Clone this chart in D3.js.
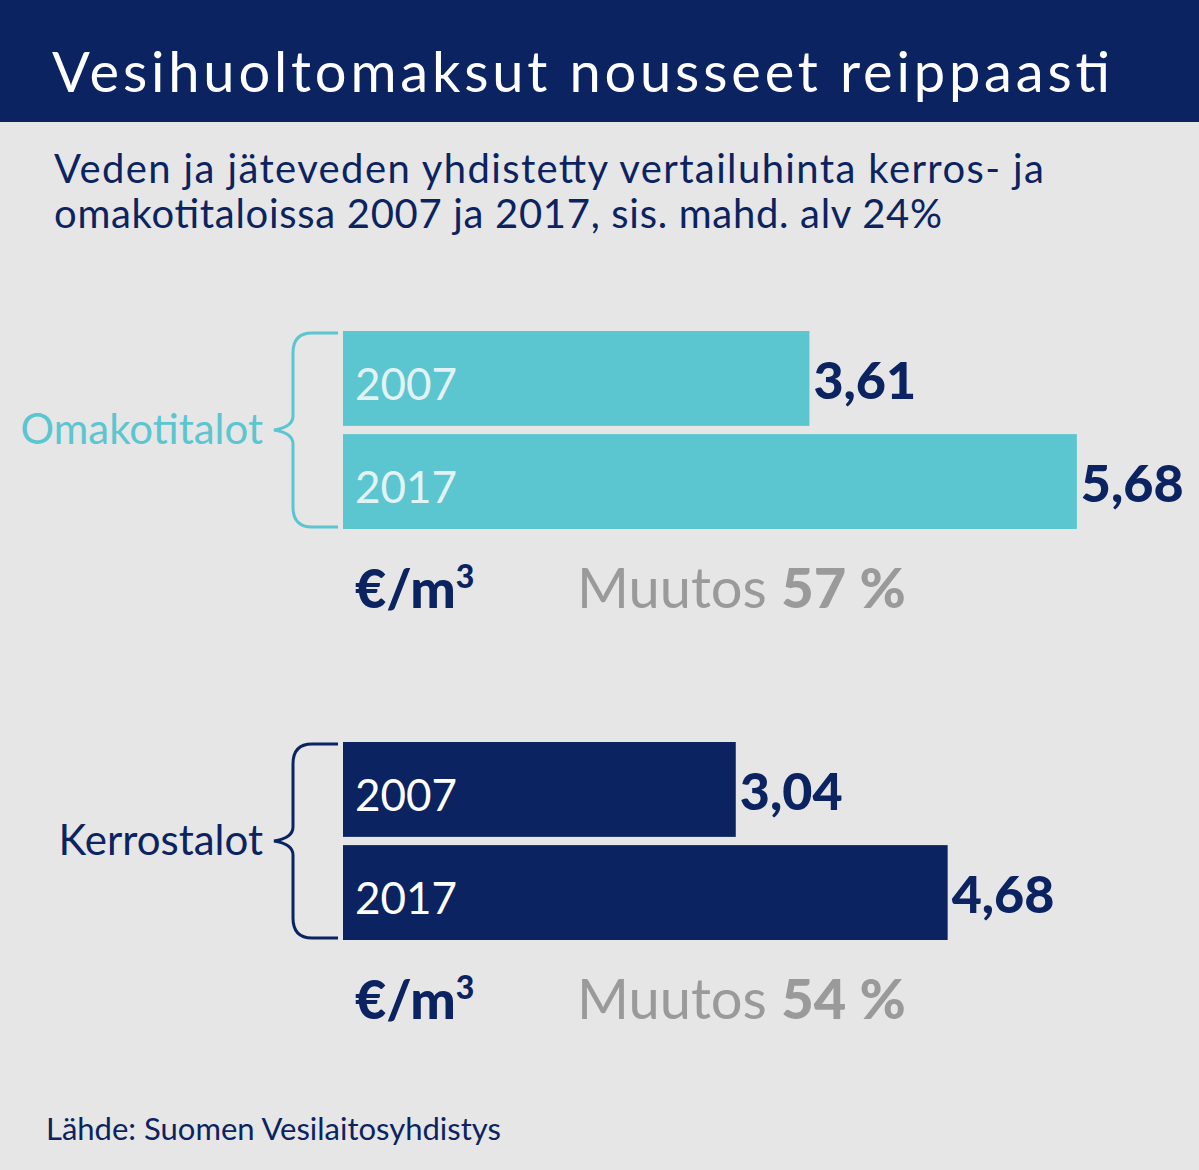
<!DOCTYPE html>
<html><head><meta charset="utf-8">
<script src="https://cdn.jsdelivr.net/npm/d3@7"></script>
<style>body{margin:0;background:#e6e6e6}</style>
</head><body>
<script>
const groups = ["Omakotitalot", "Kerrostalot"];
const years = ["2007", "2017"];
const omakoti = [3.61, 5.68];
const kerros = [3.04, 4.68];
const changes = ["57 %", "54 %"];
const valueLabels = [["3,61","5,68"],["3,04","4,68"]];

const W=1199,H=1170, navy="#0b2360", teal="#5bc5d0", F="Lato, 'Open Sans', sans-serif";
const svg=d3.select("body").append("svg").attr("width",W).attr("height",H);
svg.append("rect").attr("width",W).attr("height",H).attr("fill","#e6e6e6");
svg.append("rect").attr("width",W).attr("height",122).attr("fill",navy);
svg.append("text").attr("x",52).attr("y",92).attr("fill","#fff").attr("font-family",F)
 .attr("font-size",56).attr("textLength",1058).text("Vesihuoltomaksut nousseet reippaasti");
[["Veden ja jäteveden yhdistetty vertailuhinta kerros- ja",183,990],["omakotitaloissa 2007 ja 2017, sis. mahd. alv 24%",228,888]].forEach(([t,y,l])=>
 svg.append("text").attr("x",54).attr("y",y).attr("fill",navy).attr("font-family",F).attr("font-size",40).attr("textLength",l).text(t));

const x=d3.scaleLinear().domain([0,1]).range([343,472.2]);
const data=[omakoti,kerros], colors=[teal,navy], yearCol=["#e3f3f5","#fff"], offs=[331,742];
data.forEach((vals,g)=>{
  const y=d3.scaleBand().domain(years).range([offs[g],offs[g]+198]).paddingInner(0.08);
  const G=svg.append("g");
  years.forEach((yr,i)=>{
    const y0=y(yr), h=y.bandwidth();
    G.append("rect").attr("x",x(0)).attr("y",y0).attr("width",x(vals[i])-x(0)).attr("height",h).attr("fill",colors[g]);
    G.append("text").attr("x",355).attr("y",y0+69).attr("fill",yearCol[g]).attr("font-family",F).attr("font-size",44).text(yr);
    G.append("text").attr("x",x(vals[i])+4).attr("y",y0+68).attr("fill",navy).attr("font-family",F).attr("font-weight",900).attr("font-size",52).text(valueLabels[g][i]);
  });
  const t=offs[g]+2,b=offs[g]+196,m=(t+b)/2;
  G.append("path").attr("d",`M338,${t} L312,${t} Q293,${t} 293,${t+20} L293,${m-14} Q293,${m-3} 274,${m} Q293,${m+3} 293,${m+14} L293,${b-20} Q293,${b} 312,${b} L338,${b}`)
   .attr("fill","none").attr("stroke",colors[g]).attr("stroke-width",3);
  G.append("text").attr("x",263).attr("y",m+14).attr("text-anchor","end").attr("fill",colors[g]).attr("font-family",F).attr("font-size",42).text(groups[g]);
  const by=offs[g]+277;
  const u=G.append("text").attr("x",355).attr("y",by).attr("fill",navy).attr("font-family",F).attr("font-weight",900).attr("font-size",54);
  u.append("tspan").text("€/m"); u.append("tspan").attr("font-size",32).attr("dy",-20).text("3");
  const c=G.append("text").attr("x",577).attr("y",by).attr("fill","#9a9a9a").attr("font-family",F).attr("font-size",56);
  c.append("tspan").text("Muutos "); c.append("tspan").attr("font-weight",900).text(changes[g]);
});
svg.append("text").attr("x",46).attr("y",1140).attr("fill",navy).attr("font-family",F).attr("font-size",31).text("Lähde: Suomen Vesilaitosyhdistys");
</script>
</body></html>
